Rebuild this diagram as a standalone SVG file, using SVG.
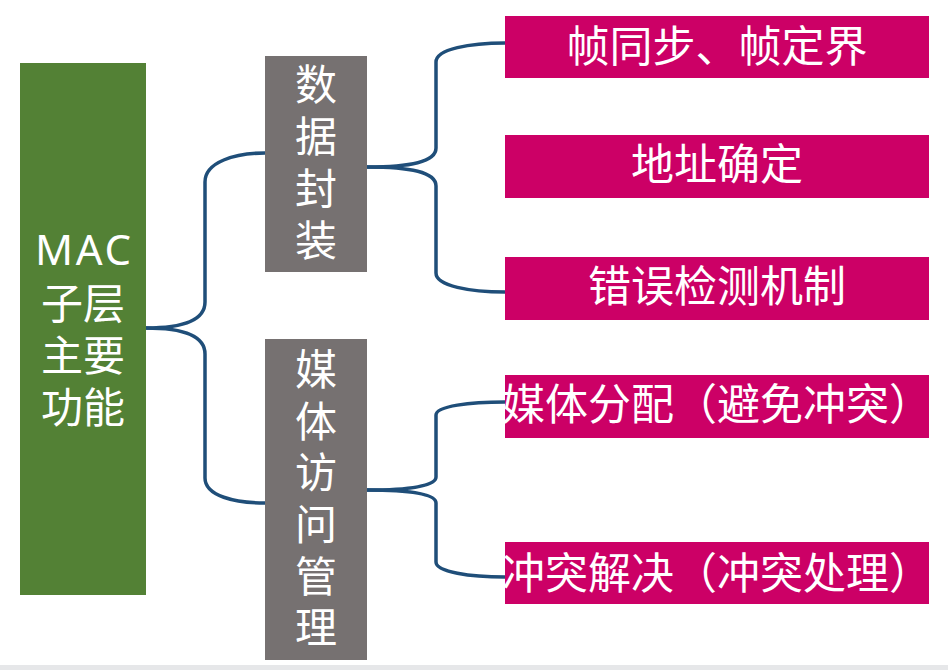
<svg xmlns="http://www.w3.org/2000/svg" width="948" height="670" viewBox="0 0 948 670">
<style>
.t{fill:#fff;font-family:"Noto Sans","Noto Sans CJK SC",sans-serif;text-anchor:middle}
.g{font-size:42px}
.p{font-size:43px}
.c{fill:none;stroke:#1F4E79;stroke-width:3.5;stroke-linecap:round}
</style>
<rect x="0" y="0" width="948" height="670" fill="#fff"/>
<rect x="0" y="665" width="948" height="5" fill="#e6e7e9"/>
<g id="connectors">
<path class="c" d="M146,328 C180,328 205,322 205,302 L205,182 C205,162 235,153 265,153"/>
<path class="c" d="M146,328 C180,328 205,334 205,354 L205,478 C205,496 235,503 265,503"/>
<path class="c" d="M367,167 C410,167 436,162 436,148 L436,62 C436,49 470,43 505,43"/>
<path class="c" d="M367,167 C410,167 436,172 436,186 L436,273 C436,286 470,292 505,292"/>
<path class="c" d="M367,490 C410,490 436,486 436,477 L436,415 C436,406 470,402 505,402"/>
<path class="c" d="M367,490 C410,490 436,494 436,503 L436,562 C436,572 470,577 505,577"/>
</g>
<g id="root">
<rect x="20" y="63" width="126" height="532" fill="#538135"/>
<text class="t g" x="83" y="265" textLength="96" lengthAdjust="spacing">MAC</text>
<text class="t g" x="83" y="319">子层</text>
<text class="t g" x="83" y="371">主要</text>
<text class="t g" x="83" y="423">功能</text>
</g>
<g id="n-data">
<rect x="265" y="56" width="102" height="216" fill="#767171"/>
<text class="t g" x="316" y="100">数</text>
<text class="t g" x="316" y="152">据</text>
<text class="t g" x="316" y="204">封</text>
<text class="t g" x="316" y="256">装</text>
</g>
<g id="n-media">
<rect x="265" y="339" width="102" height="321" fill="#767171"/>
<text class="t g" x="316" y="385">媒</text>
<text class="t g" x="316" y="437">体</text>
<text class="t g" x="316" y="488">访</text>
<text class="t g" x="316" y="540">问</text>
<text class="t g" x="316" y="592">管</text>
<text class="t g" x="316" y="643">理</text>
</g>
<g id="n-frame">
<rect x="505" y="16" width="424" height="62" fill="#CC0066"/>
<text class="t p" x="717" y="62">帧同步、帧定界</text>
</g>
<g id="n-addr">
<rect x="505" y="135" width="424" height="63" fill="#CC0066"/>
<text class="t p" x="717" y="180">地址确定</text>
</g>
<g id="n-err">
<rect x="505" y="257" width="424" height="63" fill="#CC0066"/>
<text class="t p" x="717" y="302">错误检测机制</text>
</g>
<g id="n-alloc">
<rect x="505" y="375" width="424" height="63" fill="#CC0066"/>
<text class="t p" x="717" y="420">媒体分配（避免冲突）</text>
</g>
<g id="n-resolve">
<rect x="505" y="542" width="424" height="62" fill="#CC0066"/>
<text class="t p" x="717" y="589">冲突解决（冲突处理）</text>
</g>
</svg>
